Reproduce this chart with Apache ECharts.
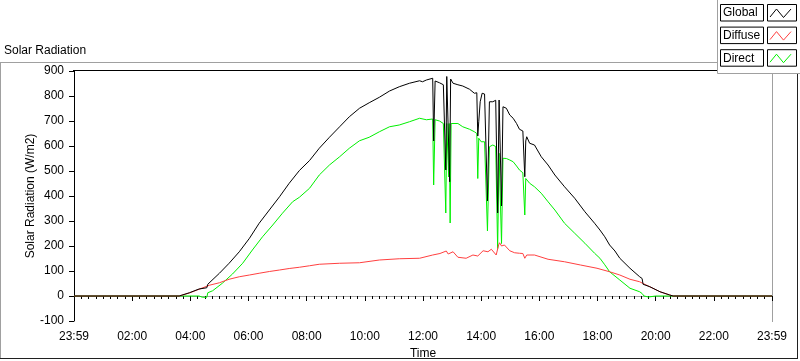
<!DOCTYPE html>
<html>
<head>
<meta charset="utf-8">
<script src="https://cdn.jsdelivr.net/npm/echarts@6/dist/echarts.min.js"></script>
<style>
html,body{margin:0;padding:0;background:#fff;}
#chart{width:800px;height:361px;}
</style>
</head>
<body>
<div id="chart"></div>
<script>
// minutes since 23:59 (0 .. 1440)
const xTicks = ['23:59','02:00','04:00','06:00','08:00','10:00','12:00','14:00','16:00','18:00','20:00','22:00','23:59'];
const yTicks = [-100,0,100,200,300,400,500,600,700,800,900];

const globalT = [0,217,238,258,274,276,300,320,341,362,382,403,424,444,465,486,506,527,548,568,589,609,630,651,671,692,713,719,727,740,742,745,754,762,765,767,769,772,775,777,782,792,802,816,826,831,833,835,838,842,847,850,853,857,864,870,873,874,877,880,882,885,892,899,906,913,919,926,929,930,932,934,940,950,964,978,992,1012,1033,1054,1074,1085,1095,1105,1116,1126,1147,1167,1172,1174,1188,1209,1229,1236,1440];
const globalV = [0,0,13,28,33,47,91,131,177,231,291,344,397,451,502,542,591,635,677,717,751,773,795,820,837,851,861,857,864,871,620,860,853,845,848,504,878,880,457,868,851,845,840,827,811,813,640,697,777,811,808,811,380,777,777,783,780,332,784,785,360,757,751,724,711,690,667,660,660,477,620,637,611,604,557,524,484,437,391,337,291,264,237,204,180,151,111,77,70,47,37,17,4,0,0];

const diffuseT = [0,217,238,258,279,300,320,341,362,382,403,424,444,465,486,506,548,589,630,671,713,740,755,768,772,782,792,809,823,833,844,854,861,871,872,876,878,882,888,899,909,919,926,930,934,950,978,1012,1045,1079,1105,1126,1147,1167,1173,1188,1209,1229,1236,1440];
const diffuseV = [0,0,12,27,43,53,67,77,84,91,98,104,110,115,121,127,131,133,144,149,151,164,170,180,168,177,155,151,164,160,181,177,187,164,171,204,213,200,204,181,173,171,170,151,164,164,147,137,124,111,97,84,67,57,51,37,17,4,0,0];

const directT = [0,217,258,262,265,274,276,286,306,327,348,368,389,410,430,451,465,486,506,527,548,568,589,609,630,651,671,692,713,727,740,742,745,754,762,765,767,769,772,773,774,776,778,782,792,802,816,826,831,833,835,840,847,851,853,857,864,870,873,874,877,880,882,885,892,899,906,913,919,926,929,930,932,934,940,950,964,978,992,1012,1033,1054,1074,1085,1095,1105,1126,1147,1167,1172,1176,1180,1185,1188,1200,1236,1440];
const directV = [0,0,0,4,-5,-5,13,21,51,88,131,184,237,284,331,377,395,431,484,524,557,591,621,635,657,677,684,697,711,705,708,444,705,700,690,690,332,690,692,476,690,292,690,691,690,677,667,657,650,470,631,617,617,610,260,597,604,598,600,190,571,570,210,551,550,544,537,520,504,493,490,324,470,472,451,437,411,377,344,291,251,211,171,151,125,97,64,31,17,10,0,-6,-4,2,0,0,0];

const seriesNames = ['Global','Diffuse','Direct'];
const seriesColors = ['#000000','#ff4040','#00f000'];

function pairs(T, V){ return T.map((t,i)=>[t, V[i]]); }

const FONT = 'Liberation Sans';
const chart = echarts.init(document.getElementById('chart'), null, {renderer:'canvas'});

const legendGraphics = [];
legendGraphics.push({type:'rect', shape:{x:717.5,y:-2,width:90,height:75.5}, style:{fill:'#fff', stroke:'#a0a0a0', lineWidth:1}, z:10});
seriesNames.forEach((n,i)=>{
  const y0 = 4.5 + i*22.6;
  legendGraphics.push({type:'rect', shape:{x:720.5,y:y0,width:43,height:16.5}, style:{fill:'#fff', stroke:'#000', lineWidth:1}, z:11});
  legendGraphics.push({type:'text', x:723, y:y0+8.5, style:{text:n, fill:'#000', font:'12px "'+FONT+'"', textVerticalAlign:'middle', verticalAlign:'middle'}, z:12});
  legendGraphics.push({type:'rect', shape:{x:767.5,y:y0,width:29,height:16.5}, style:{fill:'#fff', stroke:'#000', lineWidth:1}, z:11});
  legendGraphics.push({type:'polyline', shape:{points:[[770,y0+12.5],[776.5,y0+4.5],[783.5,y0+13],[791,y0+4.5]]}, style:{stroke:seriesColors[i], lineWidth:1, fill:null}, z:12});
});

const option = {
  animation:false,
  backgroundColor:'#fff',
  textStyle:{fontFamily:FONT},
  grid:{left:74, right:28, top:71, bottom:40, containLabel:false, outerBoundsMode:'none'},
  xAxis:{
    type:'value', min:0, max:1440, interval:120,
    name:'Time', nameLocation:'middle', nameGap:27, nameMoveOverlap:false,
    nameTextStyle:{color:'#000', fontSize:12, fontFamily:FONT},
    axisLine:{show:true, lineStyle:{color:'#a0a0a0', width:1}},
    axisTick:{show:true, length:5, lineStyle:{color:'#000'}},
    minorTick:{show:true, splitNumber:8, length:3, lineStyle:{color:'#000'}},
    splitLine:{show:false},
    axisLabel:{color:'#000', fontSize:12, fontFamily:FONT, margin:10,
      formatter:(v)=>xTicks[Math.round(v/120)] || ''}
  },
  yAxis:{
    type:'value', min:-100, max:900, interval:100,
    name:'Solar Radiation (W/m2)', nameLocation:'middle', nameGap:37, nameRotate:90, nameMoveOverlap:false,
    nameTextStyle:{color:'#000', fontSize:12, fontFamily:FONT},
    axisLine:{show:true, onZero:false, lineStyle:{color:'#000', width:1}},
    axisTick:{show:true, length:5, lineStyle:{color:'#000'}},
    splitLine:{show:false},
    axisLabel:{color:'#000', fontSize:12, fontFamily:FONT, margin:10,
      formatter:(v)=> yTicks.indexOf(v)>=0 ? String(v) : ''}
  },
  graphic:[
    {type:'line', shape:{x1:0,y1:62.5,x2:718,y2:62.5}, style:{stroke:'#a0a0a0', lineWidth:1}},
    {type:'line', shape:{x1:0.5,y1:62,x2:0.5,y2:359}, style:{stroke:'#a0a0a0', lineWidth:1}},
    {type:'line', shape:{x1:0,y1:358.5,x2:798,y2:358.5}, style:{stroke:'#202020', lineWidth:1}},
    {type:'line', shape:{x1:797.5,y1:73,x2:797.5,y2:359}, style:{stroke:'#202020', lineWidth:1}},
    {type:'line', shape:{x1:73,y1:70.5,x2:773,y2:70.5}, style:{stroke:'#000', lineWidth:1}},
    {type:'line', shape:{x1:772.5,y1:70,x2:772.5,y2:322}, style:{stroke:'#a0a0a0', lineWidth:1}},
    {type:'text', x:4, y:51, style:{text:'Solar Radiation', fill:'#000', font:'12px "'+FONT+'"', textVerticalAlign:'middle', verticalAlign:'middle'}},
    ...legendGraphics
  ],
  series:[
    {name:'Direct', type:'line', data:pairs(directT, directV), showSymbol:false, symbol:'none', lineStyle:{color:seriesColors[2], width:1}, z:2},
    {name:'Diffuse', type:'line', data:pairs(diffuseT, diffuseV), showSymbol:false, symbol:'none', lineStyle:{color:seriesColors[1], width:1}, z:3},
    {name:'Global', type:'line', data:pairs(globalT, globalV), showSymbol:false, symbol:'none', lineStyle:{color:seriesColors[0], width:1}, z:4}
  ]
};
chart.setOption(option);
</script>
</body>
</html>
